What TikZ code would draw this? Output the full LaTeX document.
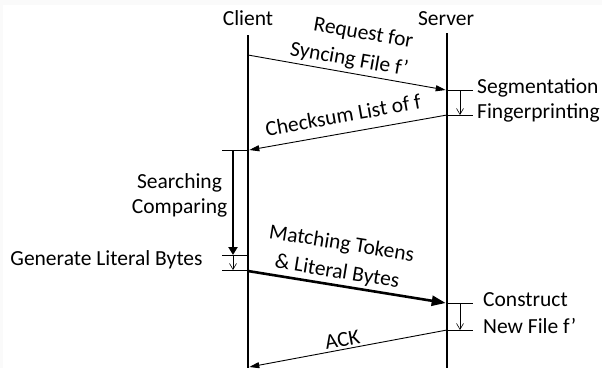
\documentclass[tikz,border=0pt]{standalone}
\usepackage{fontspec}
\setmainfont{Carlito}
\usetikzlibrary{arrows.meta}
\begin{document}
\begin{tikzpicture}[x=1pt,y=-1pt,
  font=\fontsize{21.5}{25}\selectfont,
  life/.style={line width=2.6pt},
  msg/.style={line width=0.9pt,-{Triangle[length=10pt,width=6pt]}},
  bigmsg/.style={line width=2.6pt,-{Triangle[length=14pt,width=10pt]}},
  tickline/.style={line width=0.9pt},
  spanarrow/.style={line width=0.6pt,-{Straight Barb[length=6pt,width=7pt]}},
  bigspan/.style={line width=2.2pt,-{Triangle[length=8pt,width=9pt]}},
  lbl/.style={inner sep=0pt,text height=0.64em,text depth=0pt},
  msglbl/.style={sloped,inner sep=1pt},
  twoline/.style={font=\fontsize{21.5}{28.5}\selectfont}]
\path[use as bounding box] (0,0) rectangle (602,368);
\fill[black!2] (0,0) rectangle (602,368);
\fill[white] (3,5) rectangle (602,368);

% headers
\node[lbl] (client) at (248,22) {Client};
\node[lbl] (server) at (446,22) {Server};

% lifeline coordinates
\coordinate (cTop) at (248,35);
\coordinate (cBot) at (248,368);
\coordinate (sTop) at (447,33);
\coordinate (sBot) at (447,368);
\draw[life] (cTop) -- (cBot);
\draw[life] (sTop) -- (sBot);

% event points
\coordinate (c1) at (248,55);
\coordinate (c2) at (249.3,150);
\coordinate (c3) at (248,271);
\coordinate (c4) at (249.3,367);
\coordinate (s1) at (445.7,90);
\coordinate (s2) at (447,115);
\coordinate (s3) at (445.7,303);
\coordinate (s4) at (447,330);

% messages
\draw[msg] (c1) -- node[msglbl,twoline,above=2pt,align=right,pos=0.5] {Request for\\Syncing File f’} (s1);
\draw[msg] (s2) -- node[msglbl,above=9pt,pos=0.51] {Checksum List of f} (c2);
\draw[bigmsg] (c3) -- node[msglbl,twoline,above=1.5pt,align=center,pos=0.44] {Matching Tokens\\\&~Literal Bytes} (s3);
\draw[msg] (s4) -- node[msglbl,above=1.5pt,pos=0.52] {ACK} (c4);

% server processing 1
\coordinate (t1) at (473,90);
\coordinate (t2) at (473,115);
\draw[tickline] (447,90) -- (t1);
\draw[tickline] (s2) -- (t2);
\coordinate (a1) at (460,90);
\coordinate (a2) at (460,115);
\draw[spanarrow] (a1) -- (a2);
\node[lbl,anchor=west] (seg) at (477,90) {Segmentation};
\node[lbl,anchor=west] (fin) at (477,115) {Fingerprinting};

% server processing 2
\coordinate (t3) at (473,303);
\coordinate (t4) at (473,330);
\draw[tickline] (447,303) -- (t3);
\draw[tickline] (s4) -- (t4);
\coordinate (a3) at (460,303);
\coordinate (a4) at (460,330);
\draw[spanarrow] (a3) -- (a4);
\node[lbl,anchor=west] (con) at (483,303) {Construct};
\node[lbl,anchor=west] (nf) at (483,330) {New File f’};

% client processing
\coordinate (k1) at (222,150);
\coordinate (k2) at (222,255);
\coordinate (k3) at (222,270);
\draw[tickline] (k1) -- (248,150);
\draw[tickline] (k2) -- (248,255);
\draw[tickline] (k3) -- (248,270);
\coordinate (b1) at (233,150);
\coordinate (b2) at (233,255);
\coordinate (b3) at (233,270);
\draw[bigspan] (b1) -- (b2);
\draw[spanarrow] (b2) -- (b3);
\node[align=center,inner sep=0pt] (search) at (179.5,195) {Searching\\Comparing};
\node[lbl] (gen) at (106.5,262) {Generate Literal Bytes};
\end{tikzpicture}
\end{document}
